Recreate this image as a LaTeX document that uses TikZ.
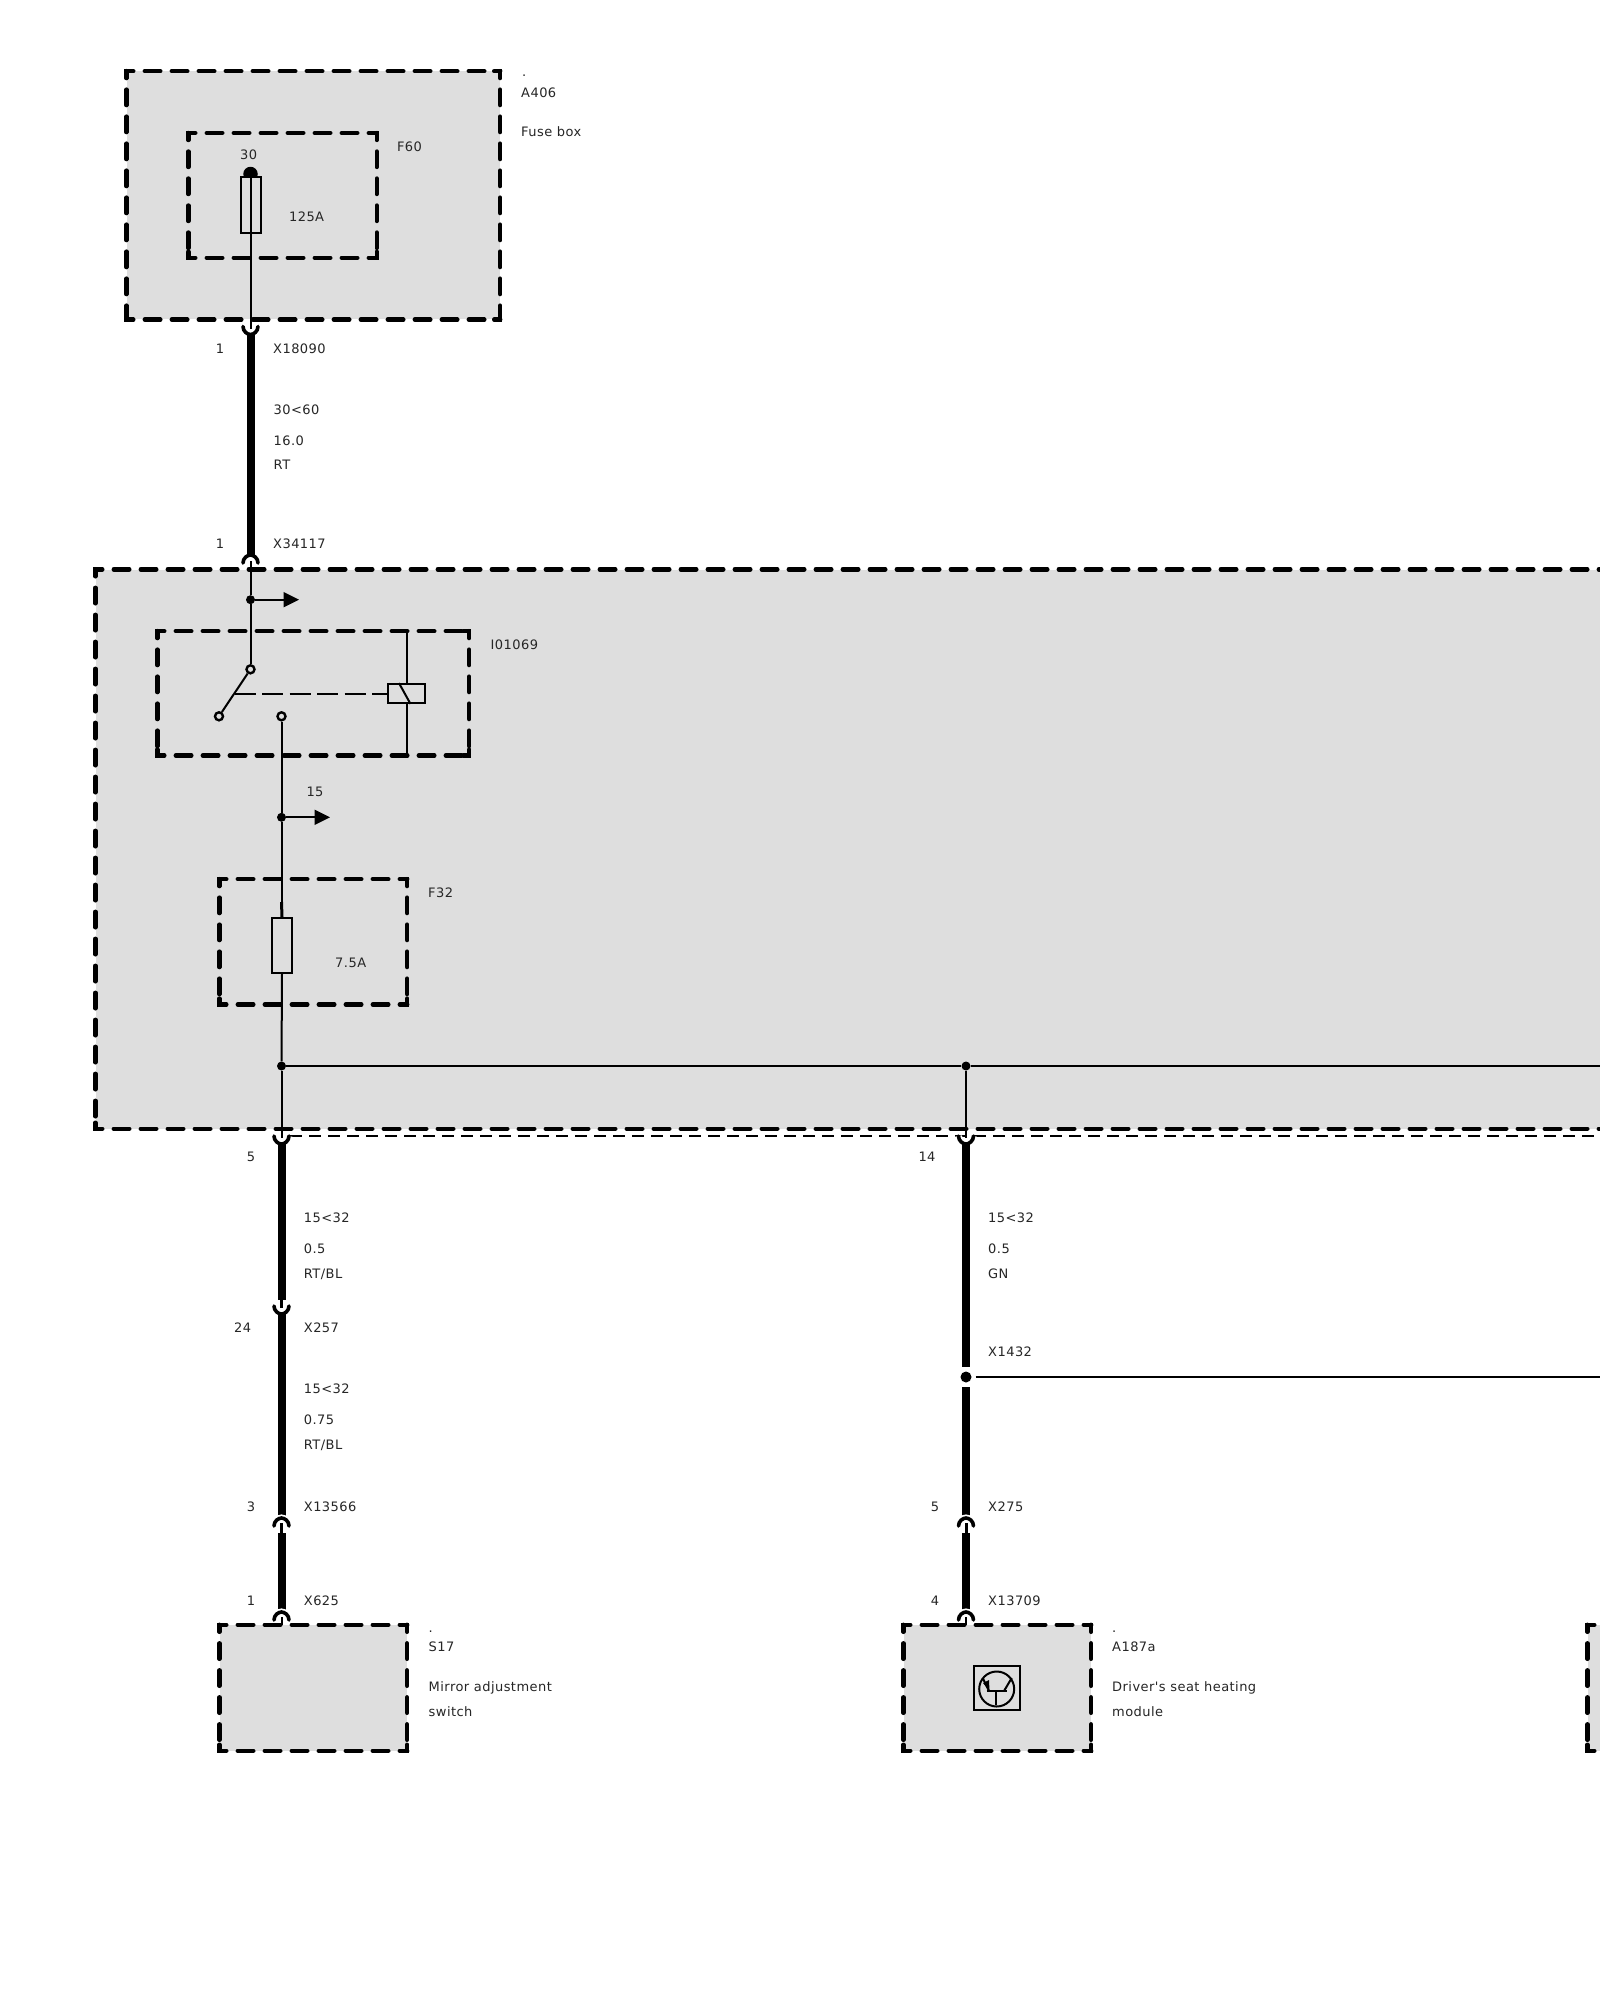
\documentclass[tikz,border=0pt]{standalone}
\usepackage{fontspec}
\usetikzlibrary{arrows.meta,calc}
\newfontfamily\lblfont[LetterSpace=3.5]{DejaVu Sans}
\definecolor{boxgray}{HTML}{DEDEDE}
\tikzset{
  lbl/.style={anchor=base west,inner sep=0pt,font=\lblfont\fontsize{13}{15}\selectfont,text=black!85},
  lblc/.style={anchor=base,inner sep=0pt,font=\lblfont\fontsize{13}{15}\selectfont,text=black!85},
  wire/.style={line width=2pt,black},
  thickwire/.style={line width=8pt,black},
  stubwire/.style={line width=3pt,black},
  dsh/.style={line width=4.4pt,black,line cap=round,dash pattern=on 15.5pt off 11.5pt,dash phase=8.5pt},
  cornerl/.style={line width=4.4pt,black,line cap=round,miter limit=10},
  jdot/.style={circle,fill=black,inner sep=0pt,minimum size=9pt},
  contact/.style={circle,draw=black,fill=boxgray,line width=2.4pt,inner sep=0pt,minimum size=8pt},
  fuse/.style={rectangle,draw=black,fill=boxgray,line width=1.8pt,inner sep=0pt,minimum width=20pt,minimum height=55pt},
  hdash/.style={line width=2pt,black,dash pattern=on 21pt off 6.5pt},
  farrow/.style={wire,-{Triangle[length=15.5pt,width=15pt]}},
}
% closed dashed box: name, x1,y1,x2,y2, fill
\newcommand{\dbox}[6]{%
  \pgfmathsetmacro{\dw}{#4-#2}\pgfmathsetmacro{\dh}{#5-#3}%
  \pgfmathsetmacro{\dcx}{(#2+#4)/2}\pgfmathsetmacro{\dcy}{(#3+#5)/2}%
  \node[inner sep=0pt,minimum width=\dw pt,minimum height=\dh pt,fill=#6] (#1) at (\dcx,\dcy) {};
}
\newcommand{\dsides}[1]{%
  \draw[dsh] (#1.north west) -- (#1.north east);
  \draw[dsh] (#1.south west) -- (#1.south east);
  \draw[dsh] (#1.north west) -- (#1.south west);
  \draw[dsh] (#1.north east) -- (#1.south east);
  \draw[cornerl] ([yshift=-6pt]#1.north west) -- (#1.north west) -- ([xshift=6pt]#1.north west);
  \draw[cornerl] ([yshift=-6pt]#1.north east) -- (#1.north east) -- ([xshift=-6pt]#1.north east);
  \draw[cornerl] ([yshift=6pt]#1.south west) -- (#1.south west) -- ([xshift=6pt]#1.south west);
  \draw[cornerl] ([yshift=6pt]#1.south east) -- (#1.south east) -- ([xshift=-6pt]#1.south east);
}
\newcommand{\dopen}[1]{%
  \draw[dsh] (#1.north west) -- (#1.north east);
  \draw[dsh] (#1.south west) -- (#1.south east);
  \draw[dsh] (#1.north west) -- (#1.south west);
  \draw[cornerl] ([yshift=-6pt]#1.north west) -- (#1.north west) -- ([xshift=6pt]#1.north west);
  \draw[cornerl] ([yshift=6pt]#1.south west) -- (#1.south west) -- ([xshift=6pt]#1.south west);
}
% connector cups: ends at y, belly 8 below/above
\newcommand{\cupm}[2]{%
  \draw[white,line width=7pt] ({#1-7.5},#2) .. controls ({#1-7.5},{#2+5}) and ({#1-3},{#2+8}) .. (#1,{#2+8}) .. controls ({#1+3},{#2+8}) and ({#1+7.5},{#2+5}) .. ({#1+7.5},#2);
  \draw[black,line width=3.6pt,line cap=round] ({#1-7.5},#2) .. controls ({#1-7.5},{#2+5}) and ({#1-3},{#2+8}) .. (#1,{#2+8}) .. controls ({#1+3},{#2+8}) and ({#1+7.5},{#2+5}) .. ({#1+7.5},#2);
}
\newcommand{\capm}[2]{%
  \draw[white,line width=7pt] ({#1-7.5},#2) .. controls ({#1-7.5},{#2-5}) and ({#1-3},{#2-8}) .. (#1,{#2-8}) .. controls ({#1+3},{#2-8}) and ({#1+7.5},{#2-5}) .. ({#1+7.5},#2);
  \draw[black,line width=3.6pt,line cap=round] ({#1-7.5},#2) .. controls ({#1-7.5},{#2-5}) and ({#1-3},{#2-8}) .. (#1,{#2-8}) .. controls ({#1+3},{#2-8}) and ({#1+7.5},{#2-5}) .. ({#1+7.5},#2);
}
\begin{document}
\begin{tikzpicture}[x=1pt,y=-1pt]
\useasboundingbox (0,0) rectangle (1600,2000);
\fill[white] (0,0) rectangle (1600,2000);

% module boxes
\dbox{A406}{126.5}{71.3}{500}{319.4}{boxgray}
\dbox{F60}{188.5}{133.2}{376.5}{257.6}{boxgray}
\dbox{main}{95.5}{569.5}{1600}{1128.5}{boxgray}
\dbox{I01069}{157.5}{631.3}{469}{755.3}{boxgray}
\dbox{F32}{219.5}{879.3}{407}{1004.3}{boxgray}
\dbox{S17}{219.5}{1625}{407}{1750.5}{boxgray}
\dbox{A187a}{903.5}{1625}{1091}{1750.5}{boxgray}
\dbox{third}{1587.5}{1625}{1600}{1750.5}{boxgray}
\dsides{A406}\dsides{F60}\dopen{main}\dsides{I01069}\dsides{F32}\dsides{S17}\dsides{A187a}\dopen{third}

% thin dashed boundary
\coordinate (bl) at (290,1136.3);
\coordinate (br) at (1600,1136.3);
\draw[line width=2pt,black,dash pattern=on 12pt off 7pt] (bl) -- (br);

% top feed
\node[circle,fill=black,inner sep=0pt,minimum size=14.5pt] (d30) at (250.5,174) {};
\node[fuse,minimum height=56pt] (fuse60) at (251,204.9) {};
\coordinate (c1t) at (250.5,328.5);
\draw[wire] (d30.center) -- (c1t);
\coordinate (t1a) at (250.5,334);
\coordinate (t1b) at (250.5,556);
\cupm{250.5}{326.5}
\capm{250.5}{563}
\draw[thickwire] (t1a) -- (t1b);
\coordinate (c2b) at (250.5,561);

% inside main
\node[jdot] (j1) at (250.5,599.7) {};
\coordinate (a1) at (299,599.7);
\draw[farrow] (j1) -- (a1);
\draw[wire] (c2b) -- (j1);
\node[contact] (sw1) at (250.5,669.3) {};
\node[contact] (sw2) at (219,716.3) {};
\node[contact] (sw3) at (281.5,716.3) {};
\draw[wire] (j1) -- (sw1);
\draw[wire] (sw1) -- (sw2);
\coordinate (armm) at (234.5,693.5);
\node[rectangle,draw=black,fill=boxgray,line width=1.8pt,inner sep=0pt,minimum width=37pt,minimum height=19pt] (relay) at (406.5,693.5) {};
\draw[hdash] (armm) -- (relay.west);
\draw[wire] (I01069.north -| relay.north) -- (relay.north);
\draw[wire] (relay.south) -- (I01069.south -| relay.south);
\draw[wire] ($(relay.north)+(-7.5,0)$) -- ($(relay.south)+(4,0)$);

\node[jdot] (j2) at (281.5,817.3) {};
\coordinate (a2) at (330,817.3);
\draw[farrow] (j2) -- (a2);
\draw[wire] (sw3) -- (j2);
\node[fuse] (fuse32) at (282,945.4) {};
\coordinate (f32a) at (281.5,902);
\draw[wire] (j2) -- (f32a);
\draw[stubwire] (f32a) -- (fuse32.north);
\node[jdot] (j3) at (281.5,1066) {};
\node[jdot] (j4) at (966,1066) {};
\coordinate (busr) at (1600,1066);
\draw[wire] (fuse32.south) -- (j3);
\draw[wire] (j3) -- (j4);
\draw[wire] (j4) -- (busr);

% left run
\coordinate (l0) at (281.5,1138);
\draw[wire] (j3) -- (l0);
\cupm{281.5}{1136}
\coordinate (l1) at (281.5,1143);
\coordinate (l2) at (281.5,1300);
\draw[thickwire] (l1) -- (l2);
\coordinate (l3) at (281.5,1308);
\draw[stubwire] (l2) -- (l3);
\cupm{281.5}{1306}
\coordinate (l4) at (281.5,1313);
\coordinate (l5) at (281.5,1519);
\draw[thickwire] (l4) -- (l5);
\capm{281.5}{1526}
\coordinate (l6) at (281.5,1523);
\coordinate (l7) at (281.5,1533);
\draw[stubwire] (l6) -- (l7);
\coordinate (l8) at (281.5,1613);
\draw[thickwire] (l7) -- (l8);
\capm{281.5}{1620}
\coordinate (l9) at (281.5,1617);
\draw[wire] (l9) -- (l9 |- S17.north);

% right run
\coordinate (r0) at (966,1138);
\draw[wire] (j4) -- (r0);
\cupm{966}{1136}
\coordinate (r1) at (966,1143);
\coordinate (r2) at (966,1367);
\draw[thickwire] (r1) -- (r2);
\node[circle,fill=black,inner sep=0pt,minimum size=11pt] (x1432) at (966,1377) {};
\coordinate (r3) at (966,1387);
\coordinate (r4) at (966,1519);
\draw[thickwire] (r3) -- (r4);
\coordinate (hs) at (975.5,1377);
\coordinate (he) at (1600,1377);
\draw[wire] (hs) -- (he);
\capm{966}{1526}
\coordinate (r5) at (966,1523);
\coordinate (r6) at (966,1533);
\draw[stubwire] (r5) -- (r6);
\coordinate (r7) at (966,1613);
\draw[thickwire] (r6) -- (r7);
\capm{966}{1620}
\coordinate (r8) at (966,1617);
\draw[wire] (r8) -- (r8 |- A187a.north);

% transistor symbol
\node[rectangle,draw=black,line width=2pt,inner sep=0pt,minimum width=46pt,minimum height=44pt] (icon) at (997,1688) {};
\draw[line width=2pt] (996.7,1689) circle (17.5pt);
\draw[line width=2pt] (986.7,1691) -- (1006.7,1691);
\draw[line width=2pt] (996,1691) -- (996,1705);
\draw[line width=2pt] (989,1691) -- (982.7,1678);
\draw[line width=2pt] (1004,1691) -- (1011.7,1678);
\fill (989.5,1691) -- (983,1683) -- (989,1680) -- cycle;

% labels
\node[lbl] (n1) at (522,76.4) {.};
\node[lbl] (n2) at (521,97.3) {A406};
\node[lbl] (n3) at (521,136.2) {Fuse box};
\node[lbl] (n4) at (396.8,151.5) {F60};
\node[lblc] (n5) at (248.7,159.6) {30};
\node[lblc] (n6) at (306.6,221.5) {125A};
\node[lblc] (n7) at (220,353.7) {1};
\node[lbl] (n8) at (273,353.7) {X18090};
\node[lbl] (n9) at (273.5,414.5) {30<60};
\node[lbl] (n10) at (273.5,445.6) {16.0};
\node[lbl] (n11) at (273.5,469.6) {RT};
\node[lblc] (n12) at (220,548.7) {1};
\node[lbl] (n13) at (273,548.7) {X34117};
\node[lbl] (n14) at (490.5,649.8) {I01069};
\node[lblc] (n15) at (315,796.8) {15};
\node[lbl] (n16) at (428,897.8) {F32};
\node[lblc] (n17) at (350.7,967.8) {7.5A};

\node[lblc] (n18) at (251,1161.5) {5};
\node[lbl] (n19) at (303.7,1222.5) {15<32};
\node[lbl] (n20) at (303.7,1253.5) {0.5};
\node[lbl] (n21) at (303.7,1278.5) {RT/BL};
\node[lblc] (n22) at (242.7,1332.5) {24};
\node[lbl] (n23) at (303.7,1332.5) {X257};
\node[lbl] (n24) at (303.7,1393.5) {15<32};
\node[lbl] (n25) at (303.7,1424.5) {0.75};
\node[lbl] (n26) at (303.7,1449.5) {RT/BL};
\node[lblc] (n27) at (251,1511.5) {3};
\node[lbl] (n28) at (303.7,1511.5) {X13566};
\node[lblc] (n29) at (251,1605.5) {1};
\node[lbl] (n30) at (303.7,1605.5) {X625};
\node[lbl] (n31) at (428.5,1632) {.};
\node[lbl] (n32) at (428.5,1651.5) {S17};
\node[lbl] (n33) at (428.5,1691.5) {Mirror adjustment};
\node[lbl] (n34) at (428.5,1716) {switch};

\node[lblc] (n35) at (927,1161.5) {14};
\node[lbl] (n36) at (988,1222.5) {15<32};
\node[lbl] (n37) at (988,1253.5) {0.5};
\node[lbl] (n38) at (988,1278.5) {GN};
\node[lbl] (n39) at (988,1356.5) {X1432};
\node[lblc] (n40) at (935,1511.5) {5};
\node[lbl] (n41) at (988,1511.5) {X275};
\node[lblc] (n42) at (935,1605.5) {4};
\node[lbl] (n43) at (988,1605.5) {X13709};
\node[lbl] (n44) at (1112,1632) {.};
\node[lbl] (n45) at (1112,1651.5) {A187a};
\node[lbl] (n46) at (1112,1691.5) {Driver's seat heating};
\node[lbl] (n47) at (1112,1716) {module};
\end{tikzpicture}
\end{document}
